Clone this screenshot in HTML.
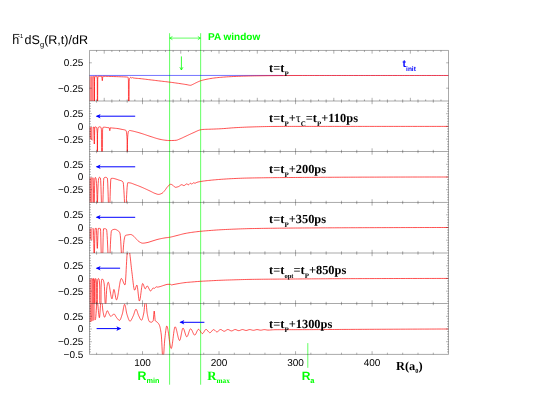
<!DOCTYPE html>
<html><head><meta charset="utf-8"><title>dS/dR panels</title>
<style>
html,body{margin:0;padding:0;background:#fff;}
body{width:538px;height:416px;overflow:hidden;font-family:"Liberation Sans",sans-serif;}
svg{display:block;will-change:transform;}
text{font-family:"Liberation Sans",sans-serif;text-rendering:geometricPrecision;}
.tk{font-size:10px;fill:#000;}
.ser{font-family:"Liberation Serif",serif;font-weight:bold;}
.lab{font-family:"Liberation Serif",serif;font-weight:bold;font-size:12.4px;fill:#000;}
.g{fill:#00ff00;font-weight:bold;}
</style></head><body>
<svg width="538" height="416" viewBox="0 0 538 416">
<rect width="538" height="416" fill="#fff"/>
<defs>
<clipPath id="c0"><rect x="89.5" y="50.45" width="359" height="50.55"/></clipPath>
<clipPath id="c1"><rect x="89.5" y="101" width="359" height="50.5"/></clipPath>
<clipPath id="c2"><rect x="89.5" y="151.5" width="359" height="50.95"/></clipPath>
<clipPath id="c3"><rect x="89.5" y="202.45" width="359" height="50.55"/></clipPath>
<clipPath id="c4"><rect x="89.5" y="253" width="359" height="50.5"/></clipPath>
<clipPath id="c5"><rect x="89.5" y="303.5" width="359" height="50.9"/></clipPath>
</defs>
<g stroke="#00ff00" stroke-width="0.62" fill="none">
<path d="M169.6 33.2V384.7M200.65 33.2V384.7M307.8 343.1V367.8"/>
<path d="M169.6 38.1H200.65"/>
<path d="M172.4 36.5L169.9 38.1L172.4 39.7" stroke-width="0.7"/>
<path d="M197.85 36.5L200.35 38.1L197.85 39.7" stroke-width="0.7"/>
<path d="M181.4 56.4V70" stroke-width="0.8"/>
<path d="M179.8 67.2L181.4 70L183 67.2" stroke-width="0.7"/>
</g>
<path d="M89.5 75.45H283" stroke="#0000ff" stroke-width="0.55" fill="none"/>
<path d="M283 75.45H448.5" stroke="#0000ff" stroke-width="0.25" fill="none"/>
<path clip-path="url(#c0)" d="M89.5 76.2L89.58 103.25L89.65 123.64L89.72 136.52L89.8 141L89.89 130.87L89.97 108.6L90.06 86.33L90.15 76.2L90.24 86.33L90.33 108.6L90.41 130.87L90.5 141L90.59 130.87L90.67 108.6L90.76 86.33L90.85 76.2L90.94 86.33L91.03 108.6L91.11 130.87L91.2 141L91.29 130.87L91.38 108.6L91.46 86.33L91.55 76.2L91.64 86.33L91.73 108.6L91.81 130.87L91.9 141L91.98 130.88L92.06 108.6L92.14 86.33L92.22 76.2L92.31 86.32L92.39 108.6L92.47 130.88L92.55 141L92.62 130.87L92.7 108.6L92.77 86.33L92.85 76.2L92.92 86.33L93 108.6L93.08 130.88L93.15 141L93.26 138.47L93.38 128.85L93.49 109.11L93.6 76.2" stroke="#ff0000" stroke-width="0.22" fill="none" stroke-linejoin="round"/>
<path clip-path="url(#c1)" d="M89.5 127L89.6 132.77L89.7 136.28L89.8 138.03L89.9 138.5L89.97 136.7L90.04 132.75L90.11 128.8L90.18 127L90.24 128.87L90.31 133L90.38 137.13L90.45 139L90.52 137.13L90.59 133L90.66 128.87L90.72 127L90.79 128.95L90.86 133.25L90.93 137.55L91 139.5L91.08 137.55L91.15 133.25L91.22 128.95L91.3 127L91.38 129.03L91.45 133.5L91.52 137.97L91.6 140L91.68 137.97L91.76 133.5L91.84 129.03L91.92 127L92.01 129.11L92.09 133.75L92.17 138.39L92.25 140.5L92.46 140.39L92.67 139.64L92.88 137.58L93.09 133.59L93.3 127" stroke="#ff0000" stroke-width="0.22" fill="none" stroke-linejoin="round"/>
<path clip-path="url(#c2)" d="M89.5 177.6L89.59 208.46L89.67 228.45L89.76 239.23L89.85 242.45L89.92 232.32L89.99 210.03L90.06 187.73L90.12 177.6L90.19 187.73L90.26 210.02L90.33 232.32L90.4 242.45L90.48 232.32L90.55 210.02L90.62 187.73L90.7 177.6L90.78 187.73L90.85 210.02L90.92 232.32L91 242.45L91.08 232.32L91.16 210.03L91.24 187.73L91.33 177.6L91.41 187.73L91.49 210.03L91.57 232.32L91.65 242.45L91.74 232.32L91.83 210.03L91.91 187.73L92 177.6L92.09 187.73L92.17 210.02L92.26 232.32L92.35 242.45L92.49 240.13L92.62 230.87L92.76 211.18L92.9 177.6" stroke="#ff0000" stroke-width="0.22" fill="none" stroke-linejoin="round"/>
<path clip-path="url(#c3)" d="M89.5 228.4L89.61 233.99L89.72 237.19L89.84 238.65L89.95 239L90.02 237.34L90.09 233.7L90.16 230.06L90.22 228.4L90.29 230.13L90.36 233.95L90.43 237.77L90.5 239.5L90.58 237.77L90.65 233.95L90.72 230.13L90.8 228.4L90.88 230.21L90.95 234.2L91.02 238.19L91.1 240L91.18 238.19L91.26 234.2L91.34 230.21L91.42 228.4L91.51 230.29L91.59 234.45L91.67 238.61L91.75 240.5L91.99 240.31L92.22 238.99L92.46 235.4L92.7 228.4" stroke="#ff0000" stroke-width="0.22" fill="none" stroke-linejoin="round"/>
<path clip-path="url(#c4)" d="M89.5 278.6L89.6 310.04L89.7 329.98L89.8 340.46L89.9 343.5L89.98 333.36L90.05 311.05L90.12 288.74L90.2 278.6L90.28 288.74L90.35 311.05L90.42 333.36L90.5 343.5L90.58 333.36L90.66 311.05L90.74 288.74L90.83 278.6L90.91 288.74L90.99 311.05L91.07 333.36L91.15 343.5L91.24 333.36L91.33 311.05L91.41 288.74L91.5 278.6L91.59 288.74L91.67 311.05L91.76 333.36L91.85 343.5L92.04 342.49L92.22 335.39L92.41 316.12L92.6 278.6" stroke="#ff0000" stroke-width="0.22" fill="none" stroke-linejoin="round"/>
<path clip-path="url(#c5)" d="M89.7 322.4L89.78 310.65L89.85 302.24L89.92 297.19L90 295.5L90.08 299.65L90.15 308.79L90.22 317.93L90.3 322.09L90.38 317.93L90.45 308.79L90.52 299.65L90.6 295.5L90.67 299.6L90.75 308.64L90.83 317.67L90.9 321.77L90.98 317.67L91.05 308.64L91.12 299.6L91.2 295.5L91.28 299.56L91.35 308.48L91.42 317.4L91.5 321.46L91.58 317.4L91.65 308.48L91.72 299.56L91.8 295.5L91.89 299.51L91.97 308.32L92.06 317.14L92.15 321.14L92.23 317.14L92.3 308.32L92.38 299.51L92.45 295.5L92.54 299.46L92.62 308.16L92.71 316.87L92.8 320.83L92.88 316.87L92.95 308.16L93.02 299.46L93.1 295.5L93.2 299.41L93.3 308.01L93.4 316.61L93.5 320.51L93.58 316.61L93.65 308.01L93.72 299.41L93.8 295.5L93.9 299.36L94 307.85L94.1 316.34L94.2 320.2L94.28 316.34L94.35 307.85L94.42 299.36L94.5 295.5L94.62 296.25L94.75 299.53L94.88 306.89L95 319.9" stroke="#ff0000" stroke-width="0.22" fill="none" stroke-linejoin="round"/>
<path clip-path="url(#c0)" d="M93.6 76.2L93.8 76.2L94.03 76.76L94.26 79.2L94.28 81.43L94.3 86.73L94.32 93.96L94.34 102L94.36 111.5L94.37 124.53L94.39 136.04L94.4 141L94.42 136.04L94.43 124.53L94.45 111.5L94.46 102L94.48 93.96L94.5 86.73L94.52 81.43L94.54 79.2L94.77 76.76L95 76.2L95.3 76.2L95.6 76.2L96.2 76.2L96.8 76.2L97.03 76.75L97.27 79.2L97.29 81.92L97.31 88.03L97.33 95.42L97.35 102L97.39 113.86L97.42 126.62L97.46 136.83L97.5 141L97.54 136.83L97.58 126.62L97.61 113.86L97.65 102L97.67 95.42L97.69 88.03L97.71 81.92L97.73 79.2L97.97 76.75L98.2 76.2L98.6 76.22L99 76.25L100.15 76.29L101.3 76.3L101.53 76.3L101.75 76.3L102.03 78.5L102.3 80.7L102.57 78.5L102.85 76.3L103.42 76.3L104 76.3L105.5 76.32L107 76.35L108.5 76.4L110 76.45L111.67 76.5L113.33 76.54L115 76.59L116.67 76.64L118.33 76.69L120 76.75L121.65 76.8L123.3 76.86L124.95 76.92L126.6 77L127.2 77.03L127.8 77.1L128.01 77.31L128.21 78.17L128.42 80.1L128.44 82.95L128.46 89.28L128.48 96.5L128.5 102L128.57 116.08L128.65 128.6L128.73 137.57L128.8 141L128.88 137.51L128.95 128.45L129.03 115.91L129.1 102L129.12 96.71L129.14 89.87L129.16 83.9L129.18 81.2L129.39 79.34L129.59 78.56L129.8 78.2L130.1 77.74L130.4 77.42L130.7 77.3L130.93 77.48L131.17 77.82L131.4 78L131.85 77.8L132.3 77.6L132.7 77.73L133.1 77.9L134.48 78.11L135.86 78.26L137.24 78.37L138.62 78.47L140 78.6L141.43 78.76L142.86 78.93L144.29 79.1L145.71 79.27L147.14 79.45L148.57 79.63L150 79.8L151.43 79.97L152.86 80.14L154.29 80.31L155.71 80.49L157.14 80.66L158.57 80.83L160 81L161.43 81.17L162.86 81.34L164.29 81.5L165.71 81.67L167.14 81.84L168.57 82.02L170 82.2L171.43 82.39L172.86 82.58L174.29 82.78L175.71 82.98L177.14 83.18L178.57 83.39L180 83.6L181.17 83.77L182.33 83.95L183.5 84.13L184.67 84.32L185.83 84.51L187 84.7L187.85 84.87L188.7 85.07L189.55 85.23L190.4 85.3L191.05 85.2L191.7 84.94L192.35 84.61L193 84.3L193.6 84.02L194.2 83.72L194.8 83.41L195.4 83.09L196 82.8L196.77 82.44L197.53 82.07L198.3 81.72L199.07 81.38L199.83 81.07L200.6 80.8L201.67 80.47L202.73 80.17L203.8 79.9L204.87 79.65L205.93 79.42L207 79.2L208.33 78.94L209.67 78.7L211 78.47L212.33 78.26L213.67 78.07L215 77.9L216.43 77.74L217.86 77.59L219.29 77.45L220.71 77.33L222.14 77.21L223.57 77.1L225 77L226.67 76.89L228.33 76.79L230 76.69L231.67 76.61L233.33 76.52L235 76.45L236.67 76.38L238.33 76.32L240 76.25L241.67 76.2L243.33 76.15L245 76.1L246.88 76.05L248.75 76.01L250.62 75.97L252.5 75.93L254.38 75.89L256.25 75.86L258.12 75.83L260 75.8L262 75.77L264 75.75L266 75.73L268 75.7L270 75.68L272 75.66L274 75.65L276 75.63L278 75.61L280 75.6L282 75.59L284 75.57L286 75.56L288 75.55L290 75.53L292 75.52L294 75.51L296 75.51L298 75.5L300 75.5L302.43 75.5L304.87 75.5L307.3 75.5L309.74 75.5L312.17 75.5L314.61 75.5L317.04 75.5L319.48 75.5L321.91 75.5L324.34 75.5L326.78 75.5L329.21 75.5L331.65 75.5L334.08 75.5L336.52 75.5L338.95 75.5L341.39 75.5L343.82 75.5L346.25 75.5L348.69 75.5L351.12 75.5L353.56 75.5L355.99 75.5L358.43 75.5L360.86 75.5L363.3 75.5L365.73 75.5L368.16 75.5L370.6 75.5L373.03 75.5L375.47 75.5L377.9 75.5L380.34 75.5L382.77 75.5L385.2 75.5L387.64 75.5L390.07 75.5L392.51 75.5L394.94 75.5L397.38 75.5L399.81 75.5L402.25 75.5L404.68 75.5L407.11 75.5L409.55 75.5L411.98 75.5L414.42 75.5L416.85 75.5L419.29 75.5L421.72 75.5L424.16 75.5L426.59 75.5L429.02 75.5L431.46 75.5L433.89 75.5L436.33 75.5L438.76 75.5L441.2 75.5L443.63 75.5L446.07 75.5L448.5 75.5" stroke="#ff0000" stroke-width="0.68" fill="none" stroke-linejoin="round"/>
<path clip-path="url(#c1)" d="M93.3 127L93.55 127L93.8 127L93.92 129.66L94.05 135.5L94.17 141.34L94.3 144L94.42 141.35L94.55 135.52L94.67 129.67L94.8 127L95.25 126.92L95.7 126.9L96 126.98L96.3 127.2L96.54 127.51L96.77 128.31L97.01 130.06L97.24 133.2L97.26 135.2L97.28 139.79L97.3 145.92L97.32 152.5L97.34 162.22L97.36 175.23L97.38 186.62L97.4 191.5L97.42 186.62L97.44 175.23L97.46 162.22L97.48 152.5L97.5 145.92L97.52 139.79L97.54 135.2L97.56 133.2L97.8 130.05L98.03 128.29L98.27 127.48L98.5 127.2L99.05 126.9L99.6 126.8L100.02 126.85L100.43 127.02L100.85 127.3L101.13 127.79L101.42 129.8L101.44 132.94L101.46 139.85L101.48 147.4L101.5 152.5L101.62 168.57L101.75 180.86L101.88 188.73L102 191.5L102.12 188.73L102.25 180.86L102.38 168.57L102.5 152.5L102.52 147.4L102.54 139.85L102.56 132.94L102.58 129.8L102.87 127.75L103.15 127.3L103.88 127.22L104.6 127.2L105.33 127.26L106.07 127.39L106.8 127.5L107.5 127.57L108.2 127.63L108.9 127.7L109.2 127.75L109.5 129.25L109.8 130.7L110.1 129.23L110.4 127.75L110.95 127.81L111.5 127.9L112.8 128.05L114.1 128.17L115.4 128.3L116.7 128.43L118 128.6L119 128.77L120 128.97L121 129.19L122 129.4L122.87 129.55L123.73 129.7L124.6 129.9L125.02 130.01L125.43 130.16L125.85 130.4L126.06 130.65L126.28 131.22L126.5 132.28L126.71 134.04L126.92 136.68L127.14 140.4L127.16 141.65L127.18 144.34L127.2 148.09L127.22 152.5L127.24 161.19L127.26 174.31L127.28 186.27L127.3 191.5L127.32 186.24L127.34 174.22L127.36 161.09L127.38 152.5L127.4 148.28L127.42 144.73L127.44 142.19L127.46 141L127.67 137.3L127.89 134.66L128.1 132.91L128.32 131.84L128.53 131.26L128.75 131L129.13 130.73L129.52 130.56L129.9 130.5L130.43 130.55L130.97 130.67L131.5 130.8L132.56 131.03L133.62 131.28L134.69 131.54L135.75 131.82L136.81 132.1L137.88 132.39L138.94 132.69L140 133L141.11 133.33L142.22 133.68L143.33 134.05L144.44 134.43L145.56 134.81L146.67 135.19L147.78 135.57L148.89 135.94L150 136.3L151.11 136.66L152.22 137.02L153.33 137.39L154.44 137.75L155.56 138.11L156.67 138.44L157.78 138.76L158.89 139.05L160 139.3L161.2 139.55L162.4 139.78L163.6 139.99L164.8 140.17L166 140.3L167.33 140.42L168.67 140.51L170 140.55L171.5 140.53L173 140.48L174.5 140.41L176 140.3L176.8 140.16L177.6 139.91L178.4 139.59L179.2 139.24L180 138.9L180.83 138.55L181.67 138.18L182.5 137.79L183.33 137.39L184.17 136.99L185 136.6L185.89 136.19L186.78 135.77L187.67 135.35L188.56 134.93L189.44 134.51L190.33 134.1L191.22 133.69L192.11 133.29L193 132.9L193.95 132.47L194.9 132.02L195.85 131.57L196.8 131.13L197.75 130.71L198.7 130.34L199.65 130.03L200.6 129.8L201.4 129.65L202.2 129.53L203 129.45L204.4 129.38L205.8 129.32L207.2 129.28L208.6 129.25L210 129.2L211.67 129.14L213.33 129.08L215 129.02L216.67 128.95L218.33 128.88L220 128.8L221.67 128.7L223.33 128.59L225 128.47L226.67 128.33L228.33 128.19L230 128.06L231.67 127.92L233.33 127.8L235 127.7L236.88 127.59L238.75 127.49L240.62 127.39L242.5 127.3L244.38 127.21L246.25 127.13L248.12 127.06L250 127L252.08 126.94L254.17 126.87L256.25 126.81L258.33 126.75L260.42 126.69L262.5 126.64L264.58 126.59L266.67 126.55L268.75 126.51L270.83 126.48L272.92 126.46L275 126.45L277.08 126.44L279.17 126.44L281.25 126.43L283.33 126.42L285.42 126.42L287.5 126.41L289.58 126.41L291.67 126.41L293.75 126.4L295.83 126.4L297.92 126.4L300 126.4L302.31 126.4L304.62 126.4L306.92 126.4L309.23 126.4L311.54 126.4L313.85 126.4L316.15 126.4L318.46 126.4L320.77 126.4L323.08 126.4L325.38 126.4L327.69 126.4L330 126.4L332.31 126.4L334.62 126.4L336.92 126.4L339.23 126.4L341.54 126.4L343.85 126.4L346.15 126.4L348.46 126.4L350.77 126.4L353.08 126.4L355.38 126.4L357.69 126.4L360 126.4L362.39 126.4L364.78 126.4L367.18 126.4L369.57 126.4L371.96 126.4L374.35 126.4L376.74 126.4L379.14 126.4L381.53 126.4L383.92 126.4L386.31 126.4L388.7 126.4L391.09 126.4L393.49 126.4L395.88 126.4L398.27 126.4L400.66 126.4L403.05 126.4L405.45 126.4L407.84 126.4L410.23 126.4L412.62 126.4L415.01 126.4L417.41 126.4L419.8 126.4L422.19 126.4L424.58 126.4L426.97 126.4L429.36 126.4L431.76 126.4L434.15 126.4L436.54 126.4L438.93 126.4L441.32 126.4L443.72 126.4L446.11 126.4L448.5 126.4" stroke="#ff0000" stroke-width="0.68" fill="none" stroke-linejoin="round"/>
<path clip-path="url(#c2)" d="M92.9 177.6L93.05 177.9L93.21 180.22L93.38 185.69L93.54 193.65L93.7 203.45L93.78 212.27L93.85 225.37L93.92 237.26L94 242.45L94.08 237.26L94.15 225.37L94.22 212.27L94.3 203.45L94.46 193.59L94.62 185.54L94.79 180.05L94.95 177.9L95.22 177.6L95.5 177.5L95.85 178.1L96.07 178.98L96.3 180.66L96.52 183.55L96.75 188.04L96.97 194.54L97.2 203.45L97.24 210.5L97.27 223.8L97.31 236.68L97.35 242.45L97.39 236.68L97.42 223.8L97.46 210.5L97.5 203.45L97.72 194.52L97.95 187.98L98.17 183.45L98.4 180.54L98.62 178.88L98.85 178.1L99.07 177.69L99.28 177.41L99.5 177.3L99.82 177.39L100.13 177.66L100.45 178.1L100.7 180.65L100.94 186.61L101.19 194.65L101.43 203.45L101.61 213.15L101.79 226.16L101.97 237.56L102.15 242.45L102.33 237.56L102.51 226.16L102.69 213.15L102.87 203.45L103.12 194.62L103.36 186.53L103.61 180.56L103.85 178.1L104.43 177.64L105.02 177.38L105.6 177.3L106.18 177.39L106.77 177.68L107.35 178.2L107.56 179.85L107.77 183.87L107.98 189.6L108.19 196.35L108.4 203.45L108.59 213.08L108.78 226.1L108.96 237.54L109.15 242.45L109.34 237.52L109.53 226.06L109.71 213.05L109.9 203.45L110.11 196.41L110.32 189.72L110.53 184.06L110.74 180.12L110.95 178.6L111.72 178.37L112.5 178.3L113.33 178.38L114.17 178.58L115 178.8L115.92 179.05L116.85 179.34L117.78 179.66L118.7 180L119.42 180.23L120.13 180.41L120.85 180.61L121.57 180.89L122.28 181.3L123 181.9L123.22 182.65L123.44 184.36L123.66 186.94L123.89 190.25L124.11 194.18L124.33 198.62L124.55 203.45L124.76 212.23L124.98 225.34L125.19 237.25L125.4 242.45L125.61 237.23L125.83 225.28L126.04 212.16L126.25 203.45L126.47 198.74L126.69 194.39L126.91 190.53L127.14 187.31L127.36 184.83L127.58 183.26L127.8 182.7L128.53 182.73L129.27 182.8L130 182.9L130.83 183.06L131.67 183.31L132.5 183.61L133.33 183.94L134.17 184.28L135 184.6L135.83 184.9L136.67 185.21L137.5 185.52L138.33 185.84L139.17 186.16L140 186.5L140.91 186.88L141.82 187.26L142.73 187.66L143.64 188.06L144.55 188.47L145.45 188.89L146.36 189.3L147.27 189.73L148.18 190.15L149.09 190.58L150 191L150.83 191.41L151.67 191.84L152.5 192.27L153.33 192.69L154.17 193.08L155 193.4L155.9 193.73L156.8 194.06L157.7 194.3L158.6 194.4L159.45 194.31L160.3 194.06L161.15 193.71L162 193.3L162.5 192.98L163 192.53L163.5 192L164 191.41L164.5 190.8L165 190.2L165.38 189.73L165.75 189.21L166.12 188.66L166.5 188.1L166.88 187.55L167.25 187.04L167.62 186.58L168 186.2L168.56 185.68L169.12 185.17L169.68 184.73L170.24 184.42L170.8 184.3L171.35 184.41L171.9 184.68L172.45 185.04L173 185.4L173.48 185.79L173.96 186.28L174.44 186.77L174.92 187.15L175.4 187.3L176.18 187.24L176.95 187.08L177.72 186.85L178.5 186.6L179.14 186.27L179.78 185.78L180.42 185.27L181.06 184.86L181.7 184.7L182.43 184.93L183.17 185.37L183.9 185.6L184.48 185.42L185.06 185L185.64 184.5L186.22 184.08L186.8 183.9L187.33 184.13L187.87 184.57L188.4 184.8L188.9 184.57L189.4 184.05L189.9 183.53L190.4 183.3L190.87 183.48L191.33 183.82L191.8 184L192.23 183.81L192.65 183.4L193.07 182.99L193.5 182.8L194 182.9L194.5 183.1L195 183.2L195.67 183.01L196.33 182.62L197 182.3L197.9 182.05L198.8 181.84L199.7 181.66L200.6 181.5L201.94 181.28L203.29 181.09L204.63 180.91L205.97 180.74L207.31 180.59L208.66 180.44L210 180.3L211.43 180.15L212.86 180.01L214.29 179.87L215.71 179.75L217.14 179.62L218.57 179.51L220 179.4L221.67 179.28L223.33 179.16L225 179.05L226.67 178.95L228.33 178.84L230 178.75L231.67 178.66L233.33 178.58L235 178.5L236.88 178.42L238.75 178.34L240.62 178.27L242.5 178.2L244.38 178.14L246.25 178.09L248.12 178.04L250 178L252.27 177.96L254.55 177.92L256.82 177.89L259.09 177.85L261.36 177.82L263.64 177.79L265.91 177.76L268.18 177.73L270.45 177.7L272.73 177.68L275 177.65L277.27 177.63L279.55 177.61L281.82 177.59L284.09 177.57L286.36 177.55L288.64 177.53L290.91 177.52L293.18 177.5L295.45 177.48L297.73 177.47L300 177.45L302.31 177.43L304.62 177.42L306.92 177.4L309.23 177.39L311.54 177.37L313.85 177.36L316.15 177.34L318.46 177.33L320.77 177.32L323.08 177.3L325.38 177.29L327.69 177.28L330 177.27L332.31 177.26L334.62 177.24L336.92 177.23L339.23 177.22L341.54 177.21L343.85 177.2L346.15 177.19L348.46 177.19L350.77 177.18L353.08 177.17L355.38 177.16L357.69 177.16L360 177.15L362.39 177.14L364.78 177.14L367.18 177.13L369.57 177.13L371.96 177.12L374.35 177.11L376.74 177.11L379.14 177.1L381.53 177.1L383.92 177.09L386.31 177.08L388.7 177.08L391.09 177.07L393.49 177.07L395.88 177.06L398.27 177.06L400.66 177.05L403.05 177.05L405.45 177.04L407.84 177.04L410.23 177.04L412.62 177.03L415.01 177.03L417.41 177.02L419.8 177.02L422.19 177.02L424.58 177.01L426.97 177.01L429.36 177.01L431.76 177.01L434.15 177.01L436.54 177L438.93 177L441.32 177L443.72 177L446.11 177L448.5 177" stroke="#ff0000" stroke-width="0.68" fill="none" stroke-linejoin="round"/>
<path clip-path="url(#c3)" d="M92.7 228.4L92.95 228.4L93.2 228.4L93.39 230.2L93.58 235.32L93.76 243.39L93.95 254L94.01 262.3L94.08 275.46L94.14 287.64L94.2 293L94.26 287.64L94.33 275.46L94.39 262.3L94.45 254L94.64 243.39L94.83 235.32L95.01 230.2L95.2 228.4L95.45 228.4L95.7 228.4L96 228.4L96.3 228.4L96.5 230.48L96.7 235.44L96.9 241.36L97.1 246.32L97.3 248.4L97.5 246.32L97.7 241.36L97.9 235.44L98.1 230.48L98.3 228.4L98.95 228.4L99.6 228.4L100.05 228.5L100.5 228.8L100.67 231.47L100.85 237.87L101.03 246.03L101.2 254L101.4 264.74L101.6 277.63L101.8 288.45L102 293L102.2 288.45L102.4 277.63L102.6 264.74L102.8 254L102.97 246L103.15 237.8L103.33 231.4L103.5 228.8L104.15 228.72L104.8 228.7L105.37 228.78L105.93 229.01L106.5 229.4L106.71 230.27L106.93 232.38L107.14 235.52L107.36 239.46L107.57 244L107.79 248.92L108 254L108.2 261.09L108.4 271.15L108.6 281.55L108.8 289.7L109 293L109.2 289.68L109.4 281.47L109.6 271.03L109.8 260.99L110 254L110.21 249.11L110.43 244.42L110.64 240.11L110.86 236.38L111.07 233.42L111.29 231.43L111.5 230.6L112.33 229.99L113.15 229.59L113.97 229.37L114.8 229.3L115.47 229.4L116.15 229.65L116.83 230L117.5 230.4L117.9 230.64L118.3 230.9L118.7 231.23L119.1 231.67L119.5 232.24L119.9 233L120.11 233.9L120.33 235.62L120.54 238.09L120.76 241.24L120.97 244.99L121.19 249.26L121.4 254L121.6 262.69L121.8 275.8L122 287.77L122.2 293L122.4 287.61L122.6 275.37L122.8 262.2L123 254L123.21 250.27L123.43 247.09L123.64 244.41L123.86 242.19L124.07 240.41L124.29 239.03L124.5 238L124.7 237.23L124.9 236.55L125.1 235.99L125.3 235.6L125.5 235.4L126.33 235.15L127.17 235.02L128 234.9L128.87 234.73L129.73 234.57L130.6 234.5L131.32 234.64L132.05 234.99L132.78 235.48L133.5 236L133.92 236.35L134.33 236.77L134.75 237.25L135.17 237.75L135.58 238.25L136 238.7L136.5 239.23L137 239.77L137.5 240.31L138 240.81L138.5 241.25L139 241.6L139.74 242.05L140.48 242.49L141.22 242.85L141.96 243.11L142.7 243.2L143.77 243.14L144.85 243L145.93 242.81L147 242.6L148 242.38L149 242.1L150 241.78L151 241.45L152 241.12L153 240.8L154 240.49L155 240.17L156 239.86L157 239.56L158 239.3L159.17 239.03L160.33 238.77L161.5 238.53L162.67 238.3L163.83 238.09L165 237.9L166.12 237.74L167.25 237.61L168.38 237.47L169.5 237.3L170.57 237.1L171.64 236.87L172.71 236.61L173.79 236.33L174.86 236.05L175.93 235.77L177 235.5L178.14 235.21L179.29 234.91L180.43 234.6L181.57 234.3L182.71 234.01L183.86 233.74L185 233.5L186.33 233.25L187.67 233.01L189 232.79L190.33 232.58L191.67 232.39L193 232.2L194.27 232.03L195.53 231.87L196.8 231.71L198.07 231.57L199.33 231.43L200.6 231.3L202.17 231.15L203.73 231.01L205.3 230.87L206.87 230.75L208.43 230.62L210 230.5L211.67 230.37L213.33 230.25L215 230.12L216.67 230.01L218.33 229.9L220 229.8L221.88 229.7L223.75 229.6L225.62 229.51L227.5 229.42L229.38 229.33L231.25 229.25L233.12 229.17L235 229.1L236.88 229.03L238.75 228.95L240.62 228.88L242.5 228.81L244.38 228.75L246.25 228.69L248.12 228.64L250 228.6L252.27 228.56L254.55 228.52L256.82 228.48L259.09 228.44L261.36 228.4L263.64 228.37L265.91 228.34L268.18 228.31L270.45 228.28L272.73 228.25L275 228.22L277.27 228.2L279.55 228.17L281.82 228.15L284.09 228.13L286.36 228.11L288.64 228.09L290.91 228.07L293.18 228.05L295.45 228.03L297.73 228.02L300 228L302.31 227.98L304.62 227.97L306.92 227.95L309.23 227.94L311.54 227.92L313.85 227.91L316.15 227.89L318.46 227.88L320.77 227.87L323.08 227.86L325.38 227.84L327.69 227.83L330 227.82L332.31 227.81L334.62 227.8L336.92 227.79L339.23 227.78L341.54 227.77L343.85 227.76L346.15 227.75L348.46 227.74L350.77 227.73L353.08 227.72L355.38 227.72L357.69 227.71L360 227.7L362.39 227.69L364.78 227.68L367.18 227.68L369.57 227.67L371.96 227.66L374.35 227.66L376.74 227.65L379.14 227.64L381.53 227.63L383.92 227.63L386.31 227.62L388.7 227.61L391.09 227.61L393.49 227.6L395.88 227.59L398.27 227.59L400.66 227.58L403.05 227.57L405.45 227.57L407.84 227.56L410.23 227.56L412.62 227.55L415.01 227.55L417.41 227.54L419.8 227.54L422.19 227.53L424.58 227.53L426.97 227.52L429.36 227.52L431.76 227.52L434.15 227.51L436.54 227.51L438.93 227.51L441.32 227.51L443.72 227.5L446.11 227.5L448.5 227.5" stroke="#ff0000" stroke-width="0.68" fill="none" stroke-linejoin="round"/>
<path clip-path="url(#c4)" d="M92.6 278.6L92.65 278.6L92.96 281.6L92.98 283.92L93 289.23L93.02 296.45L93.04 304.5L93.05 314.01L93.07 327.04L93.08 338.55L93.1 343.5L93.11 338.55L93.13 327.04L93.14 314.01L93.16 304.5L93.18 296.45L93.2 289.23L93.22 283.92L93.24 281.6L93.55 278.6L93.9 278.6L94.05 278.6L94.34 279.52L94.62 283.6L94.64 285.95L94.66 291.17L94.68 297.82L94.7 304.5L94.72 314.96L94.75 327.88L94.78 338.86L94.8 343.5L94.82 338.86L94.85 327.88L94.88 314.96L94.9 304.5L94.92 297.82L94.94 291.17L94.96 285.95L94.98 283.6L95.26 279.52L95.55 278.6L95.8 278.6L96 278.9L96.28 280.2L96.57 284.9L96.59 287.63L96.61 293.3L96.63 299.67L96.65 304.5L96.74 318.78L96.83 331.27L96.91 340.13L97 343.5L97.09 340.13L97.17 331.27L97.26 318.78L97.35 304.5L97.37 299.67L97.39 293.3L97.41 287.63L97.43 284.9L97.72 280.1L98 278.9L98.3 278.68L98.6 278.6L98.95 279L99.14 279.5L99.34 280.65L99.53 282.97L99.72 287L99.74 289.59L99.76 294.85L99.78 300.56L99.8 304.5L99.95 320.4L100.1 332.72L100.25 340.68L100.4 343.5L100.55 340.66L100.7 332.69L100.85 320.37L101 304.5L101.02 300.59L101.04 294.95L101.06 289.76L101.08 287.2L101.27 283.1L101.47 280.67L101.66 279.5L101.85 279.2L102.38 279.25L102.9 279.4L103.12 279.61L103.33 280.09L103.55 280.79L103.77 281.7L103.98 282.78L104.2 284L104.42 286.67L104.63 291.37L104.85 296.97L105.07 302.35L105.28 306.4L105.5 308L105.72 306.72L105.93 303.45L106.15 299.07L106.37 294.45L106.58 290.47L106.8 288L107 286.71L107.2 285.51L107.4 284.43L107.6 283.52L107.8 282.81L108 282.36L108.2 282.2L108.41 282.35L108.62 282.77L108.83 283.43L109.04 284.29L109.26 285.33L109.47 286.5L109.68 287.78L109.89 289.12L110.1 290.5L110.31 291.88L110.52 293.22L110.73 294.5L110.94 295.67L111.16 296.71L111.37 297.57L111.58 298.23L111.79 298.65L112 298.8L112.21 298.48L112.42 297.61L112.63 296.36L112.84 294.88L113.06 293.32L113.27 291.84L113.48 290.59L113.69 289.72L113.9 289.4L114.12 289.61L114.33 290.18L114.55 291.04L114.77 292.12L114.98 293.35L115.2 294.65L115.42 295.95L115.63 297.18L115.85 298.26L116.07 299.12L116.28 299.69L116.5 299.9L116.71 299.78L116.92 299.44L117.13 298.9L117.33 298.18L117.54 297.31L117.75 296.29L117.96 295.16L118.17 293.93L118.38 292.63L118.59 291.28L118.8 289.9L119 288.5L119.21 287.12L119.42 285.77L119.63 284.47L119.84 283.24L120.05 282.11L120.26 281.09L120.47 280.22L120.67 279.5L120.88 278.96L121.09 278.62L121.3 278.5L121.64 278.65L121.97 279.06L122.31 279.67L122.65 280.42L122.98 281.26L123.32 282.14L123.65 282.98L123.99 283.73L124.33 284.34L124.66 284.75L125 284.9L125.2 284.3L125.4 282.64L125.6 280.12L125.8 276.94L126 273.3L126.2 269.4L126.4 265.44L126.6 261.62L126.8 258.14L127 255.2L127.2 253L127.4 251.18L127.6 249.36L127.8 247.68L128 246.29L128.2 245.35L128.4 245L128.62 245.38L128.83 246.39L129.05 247.85L129.27 249.56L129.48 251.34L129.7 253L129.91 254.56L130.12 256.26L130.33 258.07L130.54 259.96L130.75 261.89L130.95 263.86L131.16 265.81L131.37 267.73L131.58 269.59L131.79 271.35L132 273L132.22 274.71L132.43 276.54L132.65 278.44L132.87 280.36L133.08 282.25L133.3 284.05L133.52 285.71L133.73 287.19L133.95 288.43L134.17 289.38L134.38 289.99L134.6 290.2L134.86 290.03L135.11 289.56L135.37 288.88L135.62 288.07L135.88 287.23L136.13 286.42L136.39 285.74L136.64 285.27L136.9 285.1L137.11 285.41L137.32 286.28L137.53 287.58L137.73 289.22L137.94 291.08L138.15 293.05L138.36 295.02L138.57 296.88L138.78 298.52L138.98 299.82L139.19 300.69L139.4 301L139.61 300.8L139.81 300.25L140.02 299.39L140.22 298.27L140.43 296.94L140.64 295.46L140.84 293.88L141.05 292.25L141.26 290.62L141.46 289.04L141.67 287.56L141.88 286.23L142.08 285.11L142.29 284.25L142.49 283.7L142.7 283.5L142.98 283.68L143.26 284.17L143.53 284.87L143.81 285.71L144.09 286.59L144.37 287.43L144.64 288.13L144.92 288.62L145.2 288.8L145.53 288.59L145.87 288.07L146.2 287.4L146.53 286.73L146.87 286.21L147.2 286L147.58 286.17L147.96 286.63L148.33 287.3L148.71 288.09L149.09 288.91L149.47 289.7L149.84 290.37L150.22 290.83L150.6 291L151.03 290.78L151.47 290.22L151.9 289.5L152.33 288.78L152.77 288.22L153.2 288L153.7 288.2L154.2 288.4L154.77 288.15L155.35 287.6L155.93 287.05L156.5 286.8L157 286.95L157.5 287.1L158.33 287.02L159.17 286.82L160 286.6L160.8 286.38L161.6 286.11L162.4 285.83L163.2 285.55L164 285.3L165 284.98L166 284.66L167 284.4L168 284.3L169.1 284.3L170.2 284.3L170.63 284.46L171.07 284.74L171.5 284.9L172.25 284.79L173 284.6L174 284.41L175 284.23L176 284.05L177 283.87L178 283.7L179.17 283.5L180.33 283.3L181.5 283.1L182.67 282.92L183.83 282.75L185 282.6L186.33 282.46L187.67 282.33L189 282.22L190.33 282.11L191.67 282.01L193 281.9L194.52 281.77L196.04 281.64L197.56 281.52L199.08 281.4L200.6 281.3L202.17 281.2L203.73 281.12L205.3 281.04L206.87 280.96L208.43 280.88L210 280.8L211.67 280.71L213.33 280.62L215 280.54L216.67 280.45L218.33 280.37L220 280.3L221.88 280.23L223.75 280.16L225.62 280.09L227.5 280.03L229.38 279.97L231.25 279.91L233.12 279.86L235 279.8L236.88 279.74L238.75 279.69L240.62 279.63L242.5 279.57L244.38 279.52L246.25 279.47L248.12 279.43L250 279.4L252.27 279.37L254.55 279.34L256.82 279.31L259.09 279.28L261.36 279.25L263.64 279.23L265.91 279.21L268.18 279.19L270.45 279.17L272.73 279.15L275 279.13L277.27 279.11L279.55 279.09L281.82 279.08L284.09 279.06L286.36 279.04L288.64 279.03L290.91 279.01L293.18 279L295.45 278.98L297.73 278.97L300 278.95L302.31 278.93L304.62 278.92L306.92 278.9L309.23 278.88L311.54 278.87L313.85 278.85L316.15 278.83L318.46 278.82L320.77 278.8L323.08 278.79L325.38 278.77L327.69 278.76L330 278.74L332.31 278.73L334.62 278.71L336.92 278.7L339.23 278.69L341.54 278.68L343.85 278.66L346.15 278.65L348.46 278.64L350.77 278.63L353.08 278.62L355.38 278.61L357.69 278.61L360 278.6L362.39 278.59L364.78 278.59L367.18 278.58L369.57 278.57L371.96 278.57L374.35 278.56L376.74 278.56L379.14 278.55L381.53 278.54L383.92 278.54L386.31 278.53L388.7 278.53L391.09 278.52L393.49 278.52L395.88 278.51L398.27 278.51L400.66 278.5L403.05 278.5L405.45 278.49L407.84 278.49L410.23 278.48L412.62 278.48L415.01 278.48L417.41 278.47L419.8 278.47L422.19 278.47L424.58 278.46L426.97 278.46L429.36 278.46L431.76 278.46L434.15 278.46L436.54 278.45L438.93 278.45L441.32 278.45L443.72 278.45L446.11 278.45L448.5 278.45" stroke="#ff0000" stroke-width="0.68" fill="none" stroke-linejoin="round"/>
<path clip-path="url(#c5)" d="M95 319.9L95.2 319.81L95.4 319.6L95.62 318.62L95.85 316.47L96.08 313.56L96.3 310.28L96.53 307.04L96.75 304.23L96.98 302.25L97.2 301.5L97.4 301.88L97.6 302.91L97.8 304.46L98 306.37L98.2 308.5L98.4 310.7L98.6 312.83L98.8 314.74L99 316.29L99.2 317.32L99.4 317.7L99.61 316.97L99.82 315.02L100.03 312.2L100.24 308.86L100.46 305.34L100.67 302L100.88 299.18L101.09 297.23L101.3 296.5L101.51 297.03L101.72 298.44L101.94 300.48L102.15 302.91L102.36 305.48L102.58 307.93L102.79 310.02L103 311.5L103.23 312.68L103.46 313.84L103.69 314.93L103.91 315.88L104.14 316.63L104.37 317.12L104.6 317.3L104.84 317.1L105.08 316.59L105.32 315.9L105.56 315.16L105.8 314.5L106.01 313.91L106.23 313.22L106.44 312.5L106.66 311.81L106.87 311.24L107.09 310.85L107.3 310.7L107.57 310.86L107.83 311.26L108.1 311.83L108.37 312.47L108.63 313.09L108.9 313.6L109.23 314.17L109.57 314.8L109.9 315.4L110.23 315.91L110.57 316.27L110.9 316.4L111.3 316.23L111.7 315.84L112.1 315.37L112.5 315L113.03 314.6L113.57 314.25L114.1 314.1L114.44 314.24L114.79 314.61L115.13 315.15L115.47 315.77L115.81 316.42L116.16 317.02L116.5 317.5L117 318.12L117.5 318.77L118 319.38L118.5 319.91L119 320.27L119.5 320.4L119.78 320.3L120.06 320L120.34 319.55L120.62 318.95L120.9 318.25L121.18 317.46L121.46 316.61L121.74 315.74L122.02 314.86L122.3 314L122.51 313.26L122.72 312.32L122.93 311.24L123.14 310.07L123.35 308.88L123.55 307.71L123.76 306.64L123.97 305.7L124.18 304.96L124.39 304.47L124.6 304.3L124.8 304.46L125 304.89L125.2 305.56L125.4 306.42L125.6 307.42L125.8 308.51L126 309.66L126.2 310.8L126.4 311.91L126.6 312.92L126.8 313.8L127 314.5L127.27 315.32L127.55 316.17L127.82 317.01L128.09 317.82L128.36 318.6L128.64 319.31L128.91 319.93L129.18 320.46L129.45 320.86L129.73 321.11L130 321.2L130.36 321.09L130.71 320.78L131.07 320.32L131.42 319.72L131.78 319.03L132.13 318.28L132.49 317.5L132.84 316.73L133.2 316L133.45 315.43L133.71 314.74L133.96 313.97L134.22 313.15L134.47 312.32L134.73 311.52L134.98 310.78L135.24 310.15L135.49 309.64L135.75 309.32L136 309.2L136.26 309.33L136.52 309.69L136.78 310.24L137.04 310.93L137.3 311.72L137.56 312.55L137.82 313.39L138.08 314.2L138.34 314.91L138.6 315.5L138.96 316.24L139.32 317.03L139.69 317.82L140.05 318.56L140.41 319.21L140.78 319.73L141.14 320.08L141.5 320.2L141.71 320.11L141.92 319.86L142.13 319.47L142.34 318.94L142.55 318.3L142.75 317.57L142.96 316.75L143.17 315.87L143.38 314.94L143.59 313.98L143.8 313L144.01 311.61L144.23 309.61L144.44 307.24L144.65 304.75L144.86 302.39L145.07 300.39L145.29 299.01L145.5 298.5L145.71 299.02L145.93 300.42L146.14 302.46L146.35 304.88L146.56 307.44L146.77 309.89L146.99 312L147.2 313.5L147.4 314.55L147.6 315.59L147.8 316.59L148 317.55L148.2 318.44L148.4 319.26L148.6 319.97L148.8 320.58L149 321.07L149.2 321.41L149.4 321.6L150.1 321.92L150.8 322.13L151.5 322.2L151.93 322.1L152.35 321.79L152.77 321.29L153.2 320.6L153.4 319.38L153.6 316.99L153.8 314.27L154 312.03L154.2 311.1L154.42 312.06L154.64 314.37L154.86 317.17L155.08 319.6L155.3 320.8L155.73 321.25L156.15 321.5L156.57 321.71L157 322L157.4 322.37L157.8 322.77L158.2 323.23L158.6 323.77L159 324.42L159.4 325.2L159.62 325.77L159.85 326.5L160.07 327.39L160.3 328.43L160.53 329.62L160.75 330.95L160.97 332.41L161.2 334L161.4 336.06L161.6 339.11L161.8 342.8L162 346.82L162.2 350.84L162.4 354.53L162.6 357.58L162.8 359.64L163 360.4L163.2 359.83L163.4 358.28L163.6 355.98L163.8 353.14L164 350.01L164.2 346.8L164.4 343.74L164.6 341.07L164.8 339L165 337.27L165.2 335.49L165.4 333.71L165.6 331.99L165.8 330.39L166 328.95L166.2 327.74L166.4 326.81L166.6 326.21L166.8 326L167.01 326.15L167.22 326.57L167.43 327.25L167.64 328.14L167.85 329.22L168.06 330.46L168.27 331.83L168.48 333.31L168.69 334.86L168.9 336.45L169.1 338.05L169.31 339.64L169.52 341.19L169.73 342.67L169.94 344.04L170.15 345.28L170.36 346.36L170.57 347.25L170.78 347.93L170.99 348.35L171.2 348.5L171.41 348.33L171.61 347.83L171.82 347.05L172.02 346.02L172.23 344.78L172.43 343.37L172.64 341.83L172.84 340.2L173.05 338.51L173.25 336.79L173.46 335.1L173.66 333.47L173.87 331.93L174.07 330.52L174.28 329.28L174.48 328.25L174.69 327.47L174.89 326.97L175.1 326.8L175.32 326.9L175.55 327.18L175.78 327.63L176 328.22L176.22 328.94L176.45 329.76L176.67 330.66L176.9 331.62L177.12 332.63L177.35 333.65L177.57 334.67L177.8 335.68L178.03 336.64L178.25 337.54L178.47 338.36L178.7 339.08L178.92 339.67L179.15 340.12L179.38 340.4L179.6 340.5L179.8 340.38L180 340.03L180.2 339.48L180.4 338.76L180.6 337.91L180.8 336.96L181 335.92L181.2 334.85L181.4 333.75L181.6 332.68L181.8 331.64L182 330.69L182.2 329.84L182.4 329.12L182.6 328.57L182.8 328.22L183 328.1L183.29 328.25L183.58 328.65L183.88 329.28L184.17 330.06L184.46 330.97L184.75 331.95L185.05 332.95L185.34 333.93L185.63 334.84L185.92 335.62L186.22 336.25L186.51 336.65L186.8 336.8L187.09 336.67L187.38 336.29L187.68 335.72L187.97 334.99L188.26 334.16L188.55 333.26L188.85 332.34L189.14 331.44L189.43 330.61L189.72 329.88L190.02 329.31L190.31 328.93L190.6 328.8L190.97 328.95L191.35 329.35L191.72 329.95L192.09 330.69L192.46 331.52L192.84 332.38L193.21 333.21L193.58 333.95L193.95 334.55L194.33 334.95L194.7 335.1L195.08 334.94L195.46 334.5L195.84 333.85L196.22 333.06L196.6 332.2L196.98 331.34L197.36 330.55L197.74 329.9L198.12 329.46L198.5 329.3L198.99 329.48L199.47 329.97L199.96 330.66L200.45 331.45L200.94 332.24L201.43 332.93L201.91 333.42L202.4 333.6L202.85 333.42L203.3 332.94L203.75 332.27L204.2 331.5L204.65 330.73L205.1 330.06L205.55 329.58L206 329.4L206.56 329.58L207.11 330.05L207.67 330.7L208.23 331.4L208.79 332.05L209.34 332.52L209.9 332.7L210.43 332.53L210.96 332.09L211.49 331.48L212.01 330.82L212.54 330.21L213.07 329.77L213.6 329.6L214.15 329.77L214.7 330.2L215.25 330.75L215.8 331.3L216.35 331.73L216.9 331.9L217.51 331.72L218.12 331.28L218.73 330.7L219.33 330.12L219.94 329.68L220.55 329.5L221.28 329.68L222.01 330.12L222.74 330.65L223.47 331.08L224.2 331.27L224.93 331.08L225.66 330.65L226.39 330.13L227.12 329.69L227.85 329.51L228.58 329.66L229.31 330.01L230.04 330.43L230.77 330.78L231.5 330.93L232.23 330.79L232.96 330.44L233.69 330.02L234.42 329.67L235.15 329.52L236.06 329.7L236.98 330.1L237.89 330.49L238.8 330.67L239.71 330.5L240.63 330.11L241.54 329.72L242.45 329.55L243.36 329.69L244.28 330.01L245.19 330.33L246.1 330.47L247.01 330.33L247.93 330.02L248.84 329.71L249.75 329.57L250.66 329.68L251.58 329.94L252.49 330.2L253.4 330.31L254.31 330.2L255.23 329.95L256.14 329.7L257.05 329.59L257.96 329.68L258.88 329.89L259.79 330.1L260.7 330.19L261.61 330.1L262.53 329.9L263.44 329.7L264.35 329.61L265.26 329.69L266.18 329.85L267.09 330.02L268 330.09L269.4 330.05L270.8 329.96L272.2 329.84L273.6 329.75L275 329.7L277.08 329.69L279.17 329.68L281.25 329.68L283.33 329.67L285.42 329.67L287.5 329.67L289.58 329.67L291.67 329.66L293.75 329.66L295.83 329.66L297.92 329.65L300 329.65L302.31 329.64L304.62 329.64L306.92 329.63L309.23 329.62L311.54 329.61L313.85 329.6L316.15 329.59L318.46 329.58L320.77 329.56L323.08 329.55L325.38 329.54L327.69 329.53L330 329.51L332.31 329.5L334.62 329.49L336.92 329.47L339.23 329.46L341.54 329.45L343.85 329.43L346.15 329.42L348.46 329.41L350.77 329.4L353.08 329.38L355.38 329.37L357.69 329.36L360 329.35L362.39 329.34L364.78 329.33L367.18 329.32L369.57 329.31L371.96 329.3L374.35 329.29L376.74 329.28L379.14 329.27L381.53 329.26L383.92 329.25L386.31 329.24L388.7 329.23L391.09 329.22L393.49 329.21L395.88 329.2L398.27 329.19L400.66 329.18L403.05 329.17L405.45 329.16L407.84 329.15L410.23 329.14L412.62 329.13L415.01 329.12L417.41 329.11L419.8 329.1L422.19 329.09L424.58 329.08L426.97 329.08L429.36 329.07L431.76 329.06L434.15 329.05L436.54 329.04L438.93 329.03L441.32 329.02L443.72 329.02L446.11 329.01L448.5 329" stroke="#ff0000" stroke-width="0.68" fill="none" stroke-linejoin="round"/>
<path d="M96.6 116.2H135.2" stroke="#0000ff" stroke-width="1.0" fill="none"/><path d="M95.8 116.2L100.6 113.9L99.4 116.2L100.6 118.5Z" fill="#0000ff"/>
<path d="M96.6 166.8H135.2" stroke="#0000ff" stroke-width="1.0" fill="none"/><path d="M95.8 166.8L100.6 164.5L99.4 166.8L100.6 169.1Z" fill="#0000ff"/>
<path d="M96.6 217.3H135.2" stroke="#0000ff" stroke-width="1.0" fill="none"/><path d="M95.8 217.3L100.6 215L99.4 217.3L100.6 219.6Z" fill="#0000ff"/>
<path d="M96.6 268.2H120.1" stroke="#0000ff" stroke-width="1.0" fill="none"/><path d="M95.8 268.2L100.6 265.9L99.4 268.2L100.6 270.5Z" fill="#0000ff"/>
<path d="M96.6 328.6H120.4" stroke="#0000ff" stroke-width="1.0" fill="none"/><path d="M121.2 328.6L116.4 326.3L117.6 328.6L116.4 330.9Z" fill="#0000ff"/>
<path d="M180.3 322.3H204.4" stroke="#0000ff" stroke-width="1.0" fill="none"/><path d="M179.5 322.3L184.3 320L183.1 322.3L184.3 324.6Z" fill="#0000ff"/>
<path d="M89.5 50.45V354.4M448.5 50.45V354.4M89.5 50.45H448.5M89.5 101H448.5M89.5 151.5H448.5M89.5 202.45H448.5M89.5 253H448.5M89.5 303.5H448.5M89.5 354.4H448.5" stroke="#000" stroke-width="0.34" fill="none"/>
<path d="M96.58 50.45v1.6M104.23 50.45v3.2M111.89 50.45v1.6M119.54 50.45v1.6M127.19 50.45v1.6M134.85 50.45v1.6M142.5 50.45v3.2M150.15 50.45v1.6M157.81 50.45v1.6M165.46 50.45v1.6M173.11 50.45v1.6M180.76 50.45v3.2M188.42 50.45v1.6M196.07 50.45v1.6M203.72 50.45v1.6M211.38 50.45v1.6M219.03 50.45v3.2M226.68 50.45v1.6M234.34 50.45v1.6M241.99 50.45v1.6M249.64 50.45v1.6M257.3 50.45v3.2M264.95 50.45v1.6M272.6 50.45v1.6M280.25 50.45v1.6M287.91 50.45v1.6M295.56 50.45v3.2M303.21 50.45v1.6M310.87 50.45v1.6M318.52 50.45v1.6M326.17 50.45v1.6M333.82 50.45v3.2M341.48 50.45v1.6M349.13 50.45v1.6M356.78 50.45v1.6M364.44 50.45v1.6M372.09 50.45v3.2M379.74 50.45v1.6M387.4 50.45v1.6M395.05 50.45v1.6M402.7 50.45v1.6M410.36 50.45v3.2M418.01 50.45v1.6M425.66 50.45v1.6M433.31 50.45v1.6M440.97 50.45v1.6M96.58 101v-1.6M96.58 101v1.7M104.23 101v-3.2M111.89 101v-1.6M111.89 101v1.7M119.54 101v-1.6M127.19 101v-1.6M127.19 101v1.7M134.85 101v-1.6M142.5 101v-3.2M142.5 101v3.2M150.15 101v-1.6M157.81 101v-1.6M157.81 101v1.7M165.46 101v-1.6M173.11 101v-1.6M173.11 101v1.7M180.76 101v-3.2M188.42 101v-1.6M188.42 101v1.7M196.07 101v-1.6M203.72 101v-1.6M203.72 101v1.7M211.38 101v-1.6M219.03 101v-3.2M219.03 101v3.2M226.68 101v-1.6M234.34 101v-1.6M234.34 101v1.7M241.99 101v-1.6M249.64 101v-1.6M249.64 101v1.7M257.3 101v-3.2M264.95 101v-1.6M264.95 101v1.7M272.6 101v-1.6M280.25 101v-1.6M280.25 101v1.7M287.91 101v-1.6M295.56 101v-3.2M295.56 101v3.2M303.21 101v-1.6M310.87 101v-1.6M310.87 101v1.7M318.52 101v-1.6M326.17 101v-1.6M326.17 101v1.7M333.82 101v-3.2M341.48 101v-1.6M341.48 101v1.7M349.13 101v-1.6M356.78 101v-1.6M356.78 101v1.7M364.44 101v-1.6M372.09 101v-3.2M372.09 101v3.2M379.74 101v-1.6M387.4 101v-1.6M387.4 101v1.7M395.05 101v-1.6M402.7 101v-1.6M402.7 101v1.7M410.36 101v-3.2M418.01 101v-1.6M418.01 101v1.7M425.66 101v-1.6M433.31 101v-1.6M433.31 101v1.7M440.97 101v-1.6M96.58 151.5v-1.7M96.58 151.5v1.7M111.89 151.5v-1.7M111.89 151.5v1.7M127.19 151.5v-1.7M127.19 151.5v1.7M142.5 151.5v-3.2M142.5 151.5v3.2M157.81 151.5v-1.7M157.81 151.5v1.7M173.11 151.5v-1.7M173.11 151.5v1.7M188.42 151.5v-1.7M188.42 151.5v1.7M203.72 151.5v-1.7M203.72 151.5v1.7M219.03 151.5v-3.2M219.03 151.5v3.2M234.34 151.5v-1.7M234.34 151.5v1.7M249.64 151.5v-1.7M249.64 151.5v1.7M264.95 151.5v-1.7M264.95 151.5v1.7M280.25 151.5v-1.7M280.25 151.5v1.7M295.56 151.5v-3.2M295.56 151.5v3.2M310.87 151.5v-1.7M310.87 151.5v1.7M326.17 151.5v-1.7M326.17 151.5v1.7M341.48 151.5v-1.7M341.48 151.5v1.7M356.78 151.5v-1.7M356.78 151.5v1.7M372.09 151.5v-3.2M372.09 151.5v3.2M387.4 151.5v-1.7M387.4 151.5v1.7M402.7 151.5v-1.7M402.7 151.5v1.7M418.01 151.5v-1.7M418.01 151.5v1.7M433.31 151.5v-1.7M433.31 151.5v1.7M96.58 202.45v-1.7M96.58 202.45v1.7M111.89 202.45v-1.7M111.89 202.45v1.7M127.19 202.45v-1.7M127.19 202.45v1.7M142.5 202.45v-3.2M142.5 202.45v3.2M157.81 202.45v-1.7M157.81 202.45v1.7M173.11 202.45v-1.7M173.11 202.45v1.7M188.42 202.45v-1.7M188.42 202.45v1.7M203.72 202.45v-1.7M203.72 202.45v1.7M219.03 202.45v-3.2M219.03 202.45v3.2M234.34 202.45v-1.7M234.34 202.45v1.7M249.64 202.45v-1.7M249.64 202.45v1.7M264.95 202.45v-1.7M264.95 202.45v1.7M280.25 202.45v-1.7M280.25 202.45v1.7M295.56 202.45v-3.2M295.56 202.45v3.2M310.87 202.45v-1.7M310.87 202.45v1.7M326.17 202.45v-1.7M326.17 202.45v1.7M341.48 202.45v-1.7M341.48 202.45v1.7M356.78 202.45v-1.7M356.78 202.45v1.7M372.09 202.45v-3.2M372.09 202.45v3.2M387.4 202.45v-1.7M387.4 202.45v1.7M402.7 202.45v-1.7M402.7 202.45v1.7M418.01 202.45v-1.7M418.01 202.45v1.7M433.31 202.45v-1.7M433.31 202.45v1.7M96.58 253v-1.7M96.58 253v1.7M111.89 253v-1.7M111.89 253v1.7M127.19 253v-1.7M127.19 253v1.7M142.5 253v-3.2M142.5 253v3.2M157.81 253v-1.7M157.81 253v1.7M173.11 253v-1.7M173.11 253v1.7M188.42 253v-1.7M188.42 253v1.7M203.72 253v-1.7M203.72 253v1.7M219.03 253v-3.2M219.03 253v3.2M234.34 253v-1.7M234.34 253v1.7M249.64 253v-1.7M249.64 253v1.7M264.95 253v-1.7M264.95 253v1.7M280.25 253v-1.7M280.25 253v1.7M295.56 253v-3.2M295.56 253v3.2M310.87 253v-1.7M310.87 253v1.7M326.17 253v-1.7M326.17 253v1.7M341.48 253v-1.7M341.48 253v1.7M356.78 253v-1.7M356.78 253v1.7M372.09 253v-3.2M372.09 253v3.2M387.4 253v-1.7M387.4 253v1.7M402.7 253v-1.7M402.7 253v1.7M418.01 253v-1.7M418.01 253v1.7M433.31 253v-1.7M433.31 253v1.7M96.58 303.5v-1.7M96.58 303.5v1.7M111.89 303.5v-1.7M111.89 303.5v1.7M127.19 303.5v-1.7M127.19 303.5v1.7M142.5 303.5v-3.2M142.5 303.5v3.2M157.81 303.5v-1.7M157.81 303.5v1.7M173.11 303.5v-1.7M173.11 303.5v1.7M188.42 303.5v-1.7M188.42 303.5v1.7M203.72 303.5v-1.7M203.72 303.5v1.7M219.03 303.5v-3.2M219.03 303.5v3.2M234.34 303.5v-1.7M234.34 303.5v1.7M249.64 303.5v-1.7M249.64 303.5v1.7M264.95 303.5v-1.7M264.95 303.5v1.7M280.25 303.5v-1.7M280.25 303.5v1.7M295.56 303.5v-3.2M295.56 303.5v3.2M310.87 303.5v-1.7M310.87 303.5v1.7M326.17 303.5v-1.7M326.17 303.5v1.7M341.48 303.5v-1.7M341.48 303.5v1.7M356.78 303.5v-1.7M356.78 303.5v1.7M372.09 303.5v-3.2M372.09 303.5v3.2M387.4 303.5v-1.7M387.4 303.5v1.7M402.7 303.5v-1.7M402.7 303.5v1.7M418.01 303.5v-1.7M418.01 303.5v1.7M433.31 303.5v-1.7M433.31 303.5v1.7M96.58 354.4v-1.7M111.89 354.4v-1.7M127.19 354.4v-1.7M142.5 354.4v-3.2M157.81 354.4v-1.7M173.11 354.4v-1.7M188.42 354.4v-1.7M203.72 354.4v-1.7M219.03 354.4v-3.2M234.34 354.4v-1.7M249.64 354.4v-1.7M264.95 354.4v-1.7M280.25 354.4v-1.7M295.56 354.4v-3.2M310.87 354.4v-1.7M326.17 354.4v-1.7M341.48 354.4v-1.7M356.78 354.4v-1.7M372.09 354.4v-3.2M387.4 354.4v-1.7M402.7 354.4v-1.7M418.01 354.4v-1.7M433.31 354.4v-1.7" stroke="#000" stroke-width="0.32" fill="none"/>
<path d="M89.5 88.2h2.4M448.5 88.2h-2.4M89.5 62.8h2.4M448.5 62.8h-2.4M89.5 149.26h1.5M448.5 149.26h-1.5M89.5 146.72h1.5M448.5 146.72h-1.5M89.5 144.18h1.5M448.5 144.18h-1.5M89.5 141.64h1.5M448.5 141.64h-1.5M89.5 139.1h2.4M448.5 139.1h-2.4M89.5 136.56h1.5M448.5 136.56h-1.5M89.5 134.02h1.5M448.5 134.02h-1.5M89.5 131.48h1.5M448.5 131.48h-1.5M89.5 128.94h1.5M448.5 128.94h-1.5M89.5 126.4h2.4M448.5 126.4h-2.4M89.5 123.86h1.5M448.5 123.86h-1.5M89.5 121.32h1.5M448.5 121.32h-1.5M89.5 118.78h1.5M448.5 118.78h-1.5M89.5 116.24h1.5M448.5 116.24h-1.5M89.5 113.7h2.4M448.5 113.7h-2.4M89.5 111.16h1.5M448.5 111.16h-1.5M89.5 108.62h1.5M448.5 108.62h-1.5M89.5 106.08h1.5M448.5 106.08h-1.5M89.5 103.54h1.5M448.5 103.54h-1.5M89.5 199.86h1.5M448.5 199.86h-1.5M89.5 197.32h1.5M448.5 197.32h-1.5M89.5 194.78h1.5M448.5 194.78h-1.5M89.5 192.24h1.5M448.5 192.24h-1.5M89.5 189.7h2.4M448.5 189.7h-2.4M89.5 187.16h1.5M448.5 187.16h-1.5M89.5 184.62h1.5M448.5 184.62h-1.5M89.5 182.08h1.5M448.5 182.08h-1.5M89.5 179.54h1.5M448.5 179.54h-1.5M89.5 177h2.4M448.5 177h-2.4M89.5 174.46h1.5M448.5 174.46h-1.5M89.5 171.92h1.5M448.5 171.92h-1.5M89.5 169.38h1.5M448.5 169.38h-1.5M89.5 166.84h1.5M448.5 166.84h-1.5M89.5 164.3h2.4M448.5 164.3h-2.4M89.5 161.76h1.5M448.5 161.76h-1.5M89.5 159.22h1.5M448.5 159.22h-1.5M89.5 156.68h1.5M448.5 156.68h-1.5M89.5 154.14h1.5M448.5 154.14h-1.5M89.5 250.36h1.5M448.5 250.36h-1.5M89.5 247.82h1.5M448.5 247.82h-1.5M89.5 245.28h1.5M448.5 245.28h-1.5M89.5 242.74h1.5M448.5 242.74h-1.5M89.5 240.2h2.4M448.5 240.2h-2.4M89.5 237.66h1.5M448.5 237.66h-1.5M89.5 235.12h1.5M448.5 235.12h-1.5M89.5 232.58h1.5M448.5 232.58h-1.5M89.5 230.04h1.5M448.5 230.04h-1.5M89.5 227.5h2.4M448.5 227.5h-2.4M89.5 224.96h1.5M448.5 224.96h-1.5M89.5 222.42h1.5M448.5 222.42h-1.5M89.5 219.88h1.5M448.5 219.88h-1.5M89.5 217.34h1.5M448.5 217.34h-1.5M89.5 214.8h2.4M448.5 214.8h-2.4M89.5 212.26h1.5M448.5 212.26h-1.5M89.5 209.72h1.5M448.5 209.72h-1.5M89.5 207.18h1.5M448.5 207.18h-1.5M89.5 204.64h1.5M448.5 204.64h-1.5M89.5 301.31h1.5M448.5 301.31h-1.5M89.5 298.77h1.5M448.5 298.77h-1.5M89.5 296.23h1.5M448.5 296.23h-1.5M89.5 293.69h1.5M448.5 293.69h-1.5M89.5 291.15h2.4M448.5 291.15h-2.4M89.5 288.61h1.5M448.5 288.61h-1.5M89.5 286.07h1.5M448.5 286.07h-1.5M89.5 283.53h1.5M448.5 283.53h-1.5M89.5 280.99h1.5M448.5 280.99h-1.5M89.5 278.45h2.4M448.5 278.45h-2.4M89.5 275.91h1.5M448.5 275.91h-1.5M89.5 273.37h1.5M448.5 273.37h-1.5M89.5 270.83h1.5M448.5 270.83h-1.5M89.5 268.29h1.5M448.5 268.29h-1.5M89.5 265.75h2.4M448.5 265.75h-2.4M89.5 263.21h1.5M448.5 263.21h-1.5M89.5 260.67h1.5M448.5 260.67h-1.5M89.5 258.13h1.5M448.5 258.13h-1.5M89.5 255.59h1.5M448.5 255.59h-1.5M89.5 351.86h1.5M448.5 351.86h-1.5M89.5 349.32h1.5M448.5 349.32h-1.5M89.5 346.78h1.5M448.5 346.78h-1.5M89.5 344.24h1.5M448.5 344.24h-1.5M89.5 341.7h2.4M448.5 341.7h-2.4M89.5 339.16h1.5M448.5 339.16h-1.5M89.5 336.62h1.5M448.5 336.62h-1.5M89.5 334.08h1.5M448.5 334.08h-1.5M89.5 331.54h1.5M448.5 331.54h-1.5M89.5 329h2.4M448.5 329h-2.4M89.5 326.46h1.5M448.5 326.46h-1.5M89.5 323.92h1.5M448.5 323.92h-1.5M89.5 321.38h1.5M448.5 321.38h-1.5M89.5 318.84h1.5M448.5 318.84h-1.5M89.5 316.3h2.4M448.5 316.3h-2.4M89.5 313.76h1.5M448.5 313.76h-1.5M89.5 311.22h1.5M448.5 311.22h-1.5M89.5 308.68h1.5M448.5 308.68h-1.5M89.5 306.14h1.5M448.5 306.14h-1.5" stroke="#000" stroke-width="0.3" fill="none"/>
<text class="tk" x="83.3" y="66.25" text-anchor="end">0.25</text>
<text class="tk" x="83.3" y="91.65" text-anchor="end">−0.25</text>
<text class="tk" x="83.3" y="117.15" text-anchor="end">0.25</text>
<text class="tk" x="83.3" y="142.55" text-anchor="end">−0.25</text>
<text class="tk" x="83.3" y="129.85" text-anchor="end">0</text>
<text class="tk" x="83.3" y="167.75" text-anchor="end">0.25</text>
<text class="tk" x="83.3" y="193.15" text-anchor="end">−0.25</text>
<text class="tk" x="83.3" y="180.45" text-anchor="end">0</text>
<text class="tk" x="83.3" y="218.25" text-anchor="end">0.25</text>
<text class="tk" x="83.3" y="243.65" text-anchor="end">−0.25</text>
<text class="tk" x="83.3" y="230.95" text-anchor="end">0</text>
<text class="tk" x="83.3" y="269.2" text-anchor="end">0.25</text>
<text class="tk" x="83.3" y="294.6" text-anchor="end">−0.25</text>
<text class="tk" x="83.3" y="281.9" text-anchor="end">0</text>
<text class="tk" x="83.3" y="319.75" text-anchor="end">0.25</text>
<text class="tk" x="83.3" y="345.15" text-anchor="end">−0.25</text>
<text class="tk" x="83.3" y="332.45" text-anchor="end">0</text>
<text class="tk" x="83.3" y="357.85" text-anchor="end">−0.5</text>
<text class="tk" x="142.5" y="365.5" font-size="9.7" text-anchor="middle">100</text>
<text class="tk" x="219.03" y="365.5" font-size="9.7" text-anchor="middle">200</text>
<text class="tk" x="295.56" y="365.5" font-size="9.7" text-anchor="middle">300</text>
<text class="tk" x="372.09" y="365.5" font-size="9.7" text-anchor="middle">400</text>
<text y="43.75" font-size="12.55" fill="#000"><tspan x="12.3">h</tspan><tspan x="18.0" dy="-6.2" font-size="5.8">-1</tspan><tspan x="24.6" dy="6.2">dS</tspan><tspan font-size="7.5" dy="3">g</tspan><tspan dy="-3">(R,t)/dR</tspan></text>
<path d="M13 34.45H19.3" stroke="#000" stroke-width="0.8"/>
<text class="g" x="208" y="39.7" font-size="10">PA window</text>
<text class="lab" x="269.1" y="71.6">t=t<tspan font-size="7.0" dy="4.0">P</tspan><tspan dy="-4.0" font-size="12.4">​</tspan></text>
<text class="lab" x="269.1" y="121.9">t=t<tspan font-size="7.0" dy="4.0">P</tspan><tspan dy="-4.0" font-size="12.4">​</tspan>+<tspan font-weight="normal">τ</tspan><tspan font-size="7.0" dy="4.0">C</tspan><tspan dy="-4.0" font-size="12.4">​</tspan>=t<tspan font-size="7.0" dy="4.0">P</tspan><tspan dy="-4.0" font-size="12.4">​</tspan>+110ps</text>
<text class="lab" x="269.1" y="172.9">t=t<tspan font-size="7.0" dy="4.0">P</tspan><tspan dy="-4.0" font-size="12.4">​</tspan>+200ps</text>
<text class="lab" x="269.1" y="222.9">t=t<tspan font-size="7.0" dy="4.0">P</tspan><tspan dy="-4.0" font-size="12.4">​</tspan>+350ps</text>
<text class="lab" x="269.1" y="273.5">t=t<tspan font-size="6.5" dy="4.0">opt</tspan><tspan dy="-4.0" font-size="12.4">​</tspan>=t<tspan font-size="7.0" dy="4.0">P</tspan><tspan dy="-4.0" font-size="12.4">​</tspan>+850ps</text>
<text class="lab" x="269.1" y="327.6">t=t<tspan font-size="7.0" dy="4.0">P</tspan><tspan dy="-4.0" font-size="12.4">​</tspan>+1300ps</text>
<text x="402.6" y="66.9" font-size="10.5" font-weight="bold" fill="#0000ff">t<tspan font-size="6.5" dy="3.6">init</tspan></text>
<text class="lab" x="396" y="369.9">R(a<tspan font-size="6.3" dy="3.4">0</tspan><tspan dy="-3.4">)</tspan></text>
<text class="g" x="137.6" y="380" font-size="12.4">R<tspan font-size="7.3" dy="3.2">min</tspan></text>
<text class="g ser" x="207.2" y="380" font-size="12.8">R<tspan font-size="7.3" dy="3.2">max</tspan></text>
<text class="g" x="301.7" y="380" font-size="12">R<tspan font-size="7.5" dy="3">a</tspan></text>
</svg>
</body></html>
